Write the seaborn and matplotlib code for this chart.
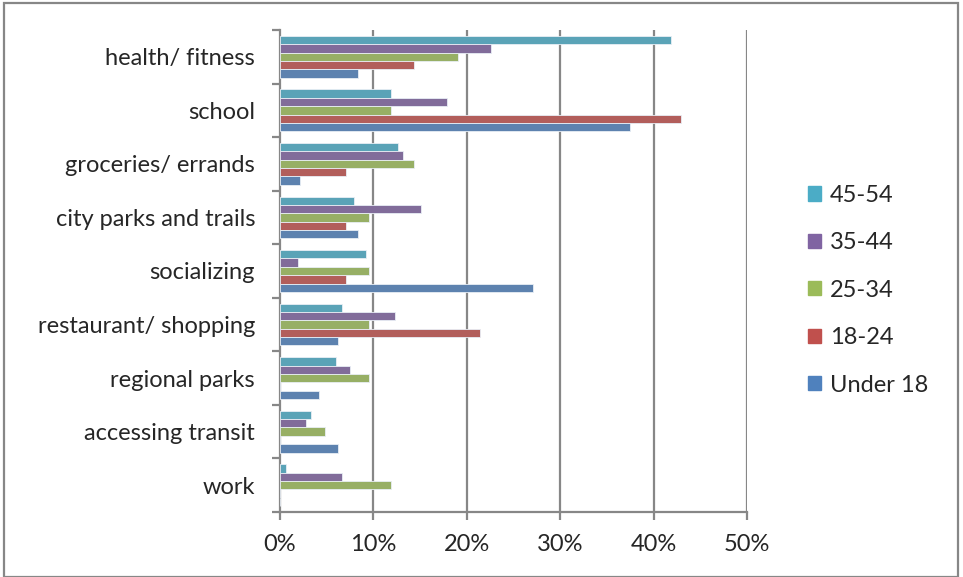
import matplotlib
matplotlib.use("Agg")
import matplotlib.pyplot as plt
import matplotlib.patches as mpatches
from matplotlib.ticker import FixedLocator, PercentFormatter
import pandas as pd
import seaborn as sns

categories = ["health/ fitness", "school", "groceries/ errands", "city parks and trails",
              "socializing", "restaurant/ shopping", "regional parks", "accessing transit", "work"]
age_groups = ["45-54", "35-44", "25-34", "18-24", "Under 18"]

pct_45_54 = [41.8, 11.9, 12.6, 7.9, 9.2, 6.6, 6.0, 3.3, 0.6]
pct_35_44 = [22.6, 17.9, 13.2, 15.1, 1.9, 12.3, 7.5, 2.8, 6.6]
pct_25_34 = [19.1, 11.9, 14.3, 9.5, 9.5, 9.5, 9.5, 4.8, 11.9]
pct_18_24 = [14.3, 42.9, 7.1, 7.1, 7.1, 21.4, 0.0, 0.0, 0.0]
pct_under18 = [8.3, 37.5, 2.1, 8.3, 27.1, 6.2, 4.2, 6.2, 0.0]

COLORS = ["#4BACC6", "#8064A2", "#9BBB59", "#C0504D", "#4F81BD"]
GRID = "#878787"
FS = 17

series = [pct_45_54, pct_35_44, pct_25_34, pct_18_24, pct_under18]
rows = []
for grp, vals in zip(age_groups, series):
    for cat, v in zip(categories, vals):
        rows.append({"category": cat, "age": grp, "pct": v})
df = pd.DataFrame(rows)

sns.set_style("white")
plt.rcParams["font.family"] = ["Lato", "DejaVu Sans"]

fig = plt.figure(figsize=(9.63, 5.77), dpi=100)
ax = fig.add_axes([0.2908, 0.1127, 0.4851, 0.8353])

sns.barplot(data=df, y="category", x="pct", hue="age", order=categories,
            hue_order=age_groups, palette=COLORS, orient="h", width=0.78,
            edgecolor="#e8eef5", linewidth=0.6, ax=ax, legend=True, zorder=3)

ax.set_xlim(0, 50)
ax.set_ylim(len(categories) - 0.5, -0.5)
ax.set_xticks([0, 10, 20, 30, 40, 50])
ax.xaxis.set_major_formatter(PercentFormatter(decimals=0))
ax.set_xlabel("")
ax.set_ylabel("")

for x in [10, 20, 30, 40, 50]:
    ax.axvline(x, color=GRID, lw=1.6, zorder=1)

for s in ["top", "right"]:
    ax.spines[s].set_visible(False)
for s in ["left", "bottom"]:
    ax.spines[s].set_color(GRID)
    ax.spines[s].set_linewidth(1.6)

ax.tick_params(axis="x", which="major", direction="out", length=6, width=1.6,
               color=GRID, labelsize=FS, pad=10, bottom=True)
ax.tick_params(axis="y", which="major", length=0, labelsize=FS, pad=18)
ax.yaxis.set_minor_locator(FixedLocator([i - 0.5 for i in range(len(categories) + 1)]))
ax.tick_params(axis="y", which="minor", direction="out", length=6, width=1.6,
               color=GRID, left=True)

handles = [mpatches.Patch(color=c, label=g) for c, g in zip(COLORS, age_groups)]
ax.legend(handles=handles, loc="center left", bbox_to_anchor=(0.829, 0.497),
          bbox_transform=fig.transFigure, frameon=False, fontsize=FS,
          handlelength=0.55, handleheight=0.55, handletextpad=0.4,
          labelspacing=1.12, borderaxespad=0)

fig.patches.append(mpatches.Rectangle((0.004, 0.0), 0.991, 0.995, transform=fig.transFigure,
                                      fill=False, edgecolor=GRID, linewidth=1.6))

fig.savefig("out.png", dpi=100)
